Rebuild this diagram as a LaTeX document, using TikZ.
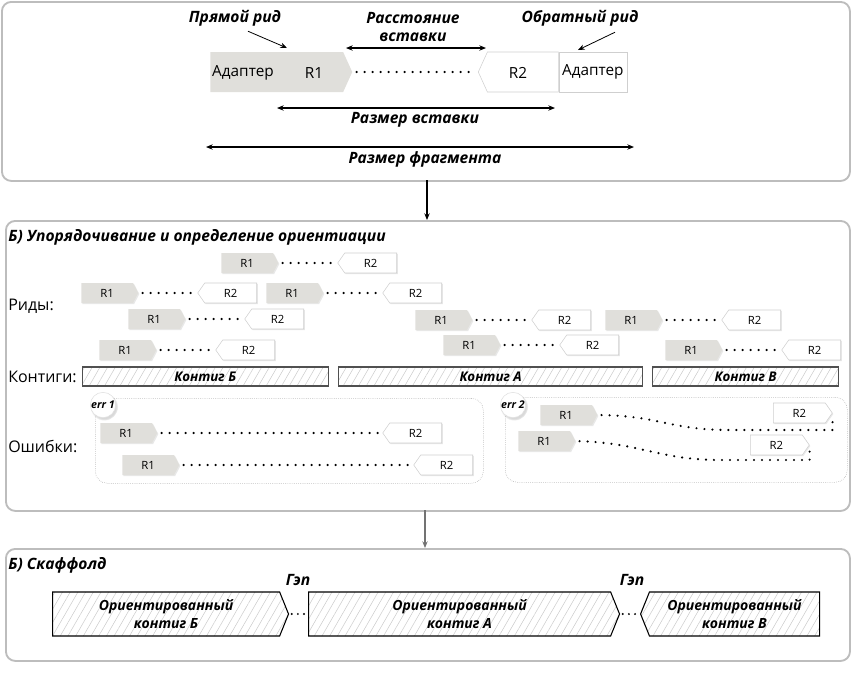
\documentclass[tikz,border=0pt]{standalone}
\usepackage{fontspec}
\setmainfont{Open Sans}
\definecolor{readgray}{HTML}{E0DFDB}
\definecolor{panelgray}{HTML}{BDBDBD}
\definecolor{revline}{HTML}{CFCFCF}
\definecolor{barline}{HTML}{505050}
\usetikzlibrary{arrows.meta,positioning,shapes.symbols,shadows,patterns.meta}

\begin{document}
\begin{tikzpicture}[>={Stealth[length=5pt,width=4pt]}, x=0.75pt, y=-0.75pt]
	\useasboundingbox (0,0) rectangle (851,687);
	% ------------------------------------------------------------------
	% STYLE DEFINITIONS
	% ------------------------------------------------------------------
	\tikzset{
		panel/.style  = {draw=panelgray, line width=1.4pt, rounded corners=7pt, anchor=north west, inner sep=0pt},
		errbox/.style = {draw=gray!75, densely dotted, rounded corners=9pt, anchor=north west, inner sep=0pt},
		soft/.style   = {drop shadow={shadow xshift=0.8pt, shadow yshift=-0.8pt, opacity=0.18}},
		errtag/.style = {circle, fill=white, draw=gray!25, minimum size=19pt, inner sep=0pt,
			font=\fontsize{8}{9}\selectfont\bfseries\itshape,
			circular drop shadow={shadow xshift=0.8pt, shadow yshift=-1.2pt, opacity=0.3}},
		rone/.style   = {signal, signal to=east, signal pointer angle=125, fill=readgray,
			minimum width=42.75pt, minimum height=15pt, inner sep=0pt,
			font=\fontsize{8.5}{9}\selectfont, soft},
		rtwo/.style   = {signal, signal to=west, signal pointer angle=110, fill=white, draw=revline,
			minimum width=44.25pt, minimum height=15pt, inner sep=0pt,
			font=\fontsize{8.5}{9}\selectfont, soft},
		rtwoflip/.style = {rtwo, signal to=east},
		dots/.style   = {line width=1.8pt, dash pattern=on 0pt off 6pt, line cap=round, shorten <=3pt, shorten >=3pt},
		gapdots/.style= {line width=1.6pt, dash pattern=on 0pt off 4.6pt, line cap=round, shorten <=2pt, shorten >=2pt},
		bar/.style    = {draw=barline, line width=1pt, minimum height=14.25pt, inner sep=0pt,
			pattern={Lines[angle=60, distance=5pt, line width=0.4pt]}, pattern color=gray!40,
			font=\fontsize{10}{11}\selectfont\bfseries\itshape},
		sblock/.style = {signal, draw=black, line width=0.8pt, minimum height=33pt, inner sep=0pt,
			signal pointer angle=136, align=center,
			pattern={Lines[angle=60, distance=5pt, line width=0.4pt]}, pattern color=gray!40,
			font=\fontsize{10.5}{13.5}\selectfont\bfseries\itshape},
		lbl/.style    = {inner sep=0pt, font=\fontsize{11.7}{14}\selectfont\bfseries\itshape},
		txt/.style    = {inner sep=0pt, font=\fontsize{11.5}{13}\selectfont},
		side/.style   = {inner sep=0pt, anchor=west, font=\fontsize{12}{14}\selectfont},
		dim/.style    = {<->, thick},
		pointer/.style= {->, semithick}
	}
	
	% ------------------------------------------------------------------
	% PANELS
	% ------------------------------------------------------------------
	\node[panel, minimum width=636pt, minimum height=134.25pt] (pA) at (1,1) {};
	\node[panel, minimum width=633pt, minimum height=217.5pt] (pB) at (5,220) {};
	\node[panel, minimum width=633pt, minimum height=84pt] (pC) at (5,548) {};
	\draw[->, thick] (427,180) coordinate (ab) -- (ab |- pB.north);
	\draw[->, thick, black!55] (425,510) coordinate (bc) -- (bc |- pC.north);
	
	% --- Read pair with adapters ---
	\node[signal, signal to=east, signal pointer angle=131, fill=readgray, minimum width=106.5pt,
		minimum height=30pt, anchor=west] (fwd) at (210,72) {};
	\node[signal, signal to=west, signal pointer angle=131, fill=white, draw=revline, minimum width=60pt,
		minimum height=30pt, anchor=west] (rev) at (478,72) {};
	\node[draw=revline, fill=white, minimum width=51pt, minimum height=30pt, anchor=west] (adR) at (rev.east) {};
	\node[txt] (adLt) at (243,73) {Адаптер};
	\node[txt] (r1t) at (314,73) {R1};
	\node[txt] (r2t) at (518,73) {R2};
	\node[txt] (adRt) at (adR.center) {Адаптер};
	\draw[dots] (fwd) -- (rev);
	
	% labels and pointers
	\node[lbl] (lfwd) at (235,18) {Прямой рид};
	\node[lbl] (lrev) at (580,18) {Обратный рид};
	\node[lbl, align=center] (ldist) at (413,27) {Расстояние\\вставки};
	\coordinate (fwdpt) at (287,48);
	\coordinate (revpt) at (578,50);
	\draw[pointer] ([shift={(13,5)}]lfwd.south) -- (fwdpt);
	\draw[pointer] ([shift={(35,6)}]lrev.south) -- (revpt);
	
	% dimension arrows
	\coordinate (dl) at (346,48); \coordinate (dr) at (486,48);
	\coordinate (il) at (277,108); \coordinate (ir) at (555,108);
	\coordinate (gl) at (206,147); \coordinate (gr) at (634,147);
	\draw[dim] (dl) -- (dr);
	\draw[dim] (il) -- (ir);
	\draw[dim] (gl) -- (gr);
	\node[lbl] (lins) at (415,120) {Размер вставки};
	\node[lbl] (lfrag) at (425,159) {Размер фрагмента};
	
	% ------------------------------------------------------------------
	% ORDERING AND ORIENTATION
	% ------------------------------------------------------------------
	\node[lbl, anchor=west] (tB) at (8,237) {Б) Упорядочивание и определение ориентиации};
	\node[side] (sreads) at (8,306) {Риды:};
	\node[side] (scont) at (8,377) {Контиги:};
	\node[side] (serr) at (8,446) {Ошибки:};
	
	\foreach \n/\x/\y in {a/221/263, b/81/293, c/266/293, d/128/319, e/99/350,
		f/415/320, g/605/320, h/443/345, i/665/350}{
		\node[rone, anchor=west] (f\n) at (\x,\y) {R1};
		\node[rtwo, anchor=east] (r\n) at (\x+176,\y) {R2};
		\draw[dots] (f\n) -- (r\n);
	}
	
	% contigs
	\node[bar, minimum width=184.5pt, anchor=west] (cB) at (82,376.5) {Контиг Б};
	\node[bar, minimum width=228pt, anchor=west] (cA) at (338,376.5) {Контиг А};
	\node[bar, minimum width=139.5pt, anchor=west] (cV) at (652,376.5) {Контиг В};
	
	% errors
	\node[errbox, minimum width=291pt, minimum height=63.75pt] (eA) at (95,398) {};
	\node[errbox, minimum width=256.5pt, minimum height=63.75pt] (eB) at (505,397) {};
	\node[errtag] (tA) at (103,405) {err 1};
	\node[errtag] (tB2) at (513,405) {err 2};
	
	\node[rone, anchor=west] (fk) at (100,433) {R1};
	\node[rtwo, anchor=east] (rk) at (442,433) {R2};
	\draw[dots] (fk) -- (rk);
	\node[rone, anchor=west] (fl) at (122,465) {R1};
	\node[rtwo, anchor=east] (rl) at (473,465) {R2};
	\draw[dots] (fl) -- (rl);
	
	\node[rone, anchor=west] (fm) at (540,415) {R1};
	\node[rtwoflip, anchor=west] (rm) at (773,413) {R2};
	\draw[dots] (fm.east) .. controls (660,416) and (670,430) .. (730,430) -- (rm.east |- 0,430) -- (rm.east);
	\node[rone, anchor=west] (fn) at (518,441) {R1};
	\node[rtwoflip, anchor=west] (rn) at (750,445) {R2};
	\draw[dots] (fn.east) .. controls (640,443) and (660,460) .. (720,460) -- (rn.east |- 0,460) -- (rn.east);
	
	% ------------------------------------------------------------------
	% SCAFFOLD
	% ------------------------------------------------------------------
	\node[lbl, anchor=west] (tC) at (8,565) {Б) Скаффолд};
	\node[sblock, signal to=east, minimum width=177pt, anchor=west] (sB) at (52,614) {Ориентированный\\контиг Б};
	\node[sblock, signal to=east, minimum width=233.25pt, anchor=west] (sA) at (308,614) {Ориентированный\\контиг А};
	\node[sblock, signal to=west, minimum width=134.25pt, anchor=west] (sV) at (640,614) {Ориентированный\\контиг В};
	\draw[gapdots] (sB) -- (sA);
	\draw[gapdots] (sA) -- (sV);
	\node[lbl] (gap1) at (298,580) {Гэп};
	\node[lbl] (gap2) at (632,580) {Гэп};
	
\end{tikzpicture}
\end{document}
